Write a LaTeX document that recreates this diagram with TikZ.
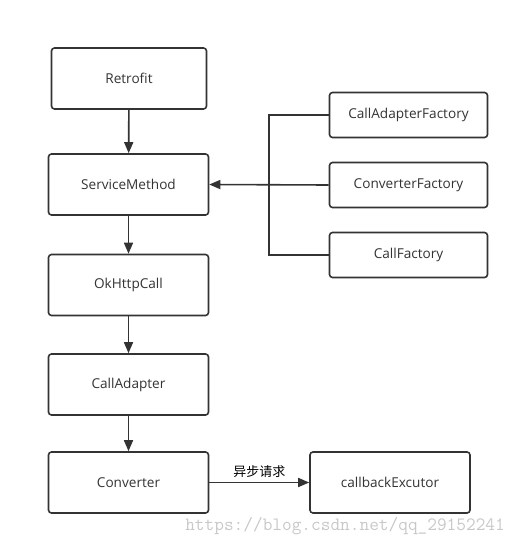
\documentclass[tikz,border=0pt]{standalone}
\usepackage{fontspec}
\setmainfont{Open Sans}
\newfontfamily\cjk{Noto Sans CJK SC}
\usetikzlibrary{arrows.meta}
\definecolor{linegray}{HTML}{333333}
\definecolor{markgray}{HTML}{C8C8C8}
\tikzset{
  box/.style={draw=linegray, line width=1.6pt, rounded corners=3pt, inner sep=0pt,
    font=\fontsize{13.6}{16}\selectfont, text=linegray},
  bigbox/.style={box, minimum width=160pt, minimum height=61pt},
  smallbox/.style={box, minimum width=158pt, minimum height=45pt},
  line/.style={draw=linegray, line width=1.6pt},
  arr/.style={line, -{Triangle[length=11pt,width=9pt]}}
}
\begin{document}
\begin{tikzpicture}[x=1pt,y=-1pt]
\useasboundingbox (0,0) rectangle (519,546);

% left column
\node[bigbox, minimum width=155pt] (retrofit) at (129,78.5) {Retrofit};
\node[bigbox] (service) at (128.5,184.5) {ServiceMethod};
\node[bigbox] (okhttp) at (128.5,285) {OkHttpCall};
\node[bigbox] (adapter) at (128.5,384.5) {CallAdapter};
\node[bigbox] (converter) at (128.5,482.5) {Converter};
\node[bigbox] (excutor) at (390,482.5) {callbackExcutor};

% factories
\node[smallbox] (adapterfactory) at (408.5,115) {CallAdapterFactory};
\node[smallbox] (converterfactory) at (408.5,185) {ConverterFactory};
\node[smallbox] (callfactory) at (408.5,255) {CallFactory};

\draw[arr] (retrofit) -- (service);
\draw[arr] (service) -- (okhttp);
\draw[arr] (okhttp) -- (adapter);
\draw[arr] (adapter) -- (converter);
\draw[arr] (converter) -- node[above=1pt, font=\cjk\fontsize{13}{15}\selectfont, text=black] {异步请求} (excutor);

\draw[line] (adapterfactory.west) -- ++(-60,0) |- (callfactory.west);
\draw[arr] (converterfactory.west) -- (service.east);

\node[font=\ttfamily\fontsize{18.8}{20}\selectfont, text=markgray, anchor=east, inner sep=0pt] (mark) at (505,526) {https://blog.csdn.net/qq\_29152241};
\end{tikzpicture}
\end{document}
